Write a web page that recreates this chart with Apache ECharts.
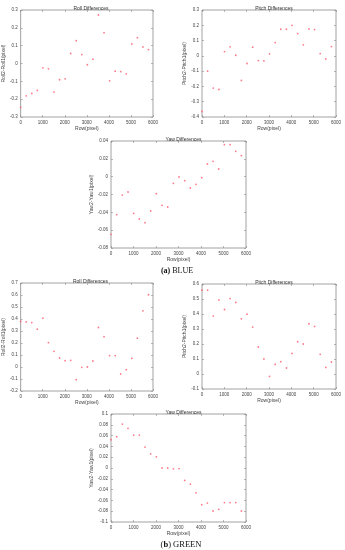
<!DOCTYPE html>
<html><head><meta charset="utf-8">
<script src="https://cdn.jsdelivr.net/npm/echarts@6/dist/echarts.min.js"></script>
<style>html,body{margin:0;padding:0;background:#fff}#c{width:345px;height:550px}</style>
</head><body><div id="c"></div>
<script>
var rows = [0,252,504,756,1008,1260,1512,1764,2016,2268,2520,2772,3024,3276,3528,3780,4032,4284,4536,4788,5040,5292,5544,5796];
var xTicks = [0,1000,2000,3000,4000,5000,6000];
var blueRoll = [-0.246,-0.181,-0.168,-0.151,-0.024,-0.030,-0.160,-0.091,-0.086,0.056,0.128,0.050,-0.007,0.024,0.272,0.173,-0.097,-0.043,-0.045,-0.058,0.110,0.145,0.093,0.078];
var bluePitch = [-0.364,-0.100,-0.211,-0.220,0.028,0.059,0.004,-0.161,-0.050,0.057,-0.031,-0.033,0.013,0.087,0.174,0.174,0.200,0.146,0.072,0.176,0.172,0.015,-0.020,0.061];
var blueYaw = [-0.0647,-0.0426,-0.0206,-0.0172,-0.0411,-0.0475,-0.0516,-0.0385,-0.0191,-0.0321,-0.0340,-0.0075,-0.0004,-0.0045,-0.0127,-0.0086,-0.0011,0.0142,0.0172,0.0086,0.0359,0.0359,0.0284,0.0236];
var greenRoll = [0.379,0.376,0.370,0.315,0.407,0.203,0.131,0.075,0.053,0.056,-0.106,-0.003,0.000,0.050,0.329,0.253,0.095,0.095,-0.058,-0.022,0.072,0.240,0.468,0.602];
var greenPitch = [0.559,0.559,0.386,0.494,0.430,0.503,0.477,0.368,0.399,0.313,0.180,0.100,-0.016,0.064,0.082,0.040,0.137,0.215,0.200,0.335,0.317,0.131,0.044,0.080];
var greenYaw = [0.0523,0.0579,0.0814,0.0734,0.061,0.061,0.0387,0.0263,0.0207,0.0,0.0,-0.0015,-0.001,-0.023,-0.030,-0.046,-0.068,-0.065,-0.0796,-0.0765,-0.064,-0.064,-0.064,-0.0796];

var panels = [
  {title:'Roll Differences', yname:'Roll2-Roll1(pixel)', data:blueRoll, min:-0.3, max:0.3, step:0.1, g:{left:19,top:10,width:134,height:107}},
  {title:'Pitch Differences', yname:'Pitch2-Pitch1(pixel)', data:bluePitch, min:-0.4, max:0.3, step:0.1, g:{left:202,top:10,width:134,height:107}},
  {title:'Yaw Differences', yname:'Yaw2-Yaw1(pixel)', data:blueYaw, min:-0.08, max:0.04, step:0.02, g:{left:111,top:141,width:135,height:107}},
  {title:'Roll Differences', yname:'Roll2-Roll1(pixel)', data:greenRoll, min:-0.2, max:0.7, step:0.1, g:{left:18,top:283,width:135,height:108}},
  {title:'Pitch Differences', yname:'Pitch2-Pitch1(pixel)', data:greenPitch, min:-0.1, max:0.6, step:0.1, g:{left:202,top:284,width:134,height:105}},
  {title:'Yaw Differences', yname:'Yaw2-Yaw1(pixel)', data:greenYaw, min:-0.1, max:0.1, step:0.02, g:{left:111,top:414,width:135,height:108}}
];

var AX = '#8a8a8a', TX = '#444';
var grid=[], xAxis=[], yAxis=[], series=[], title=[];
function fmt(v){return String(parseFloat(v.toFixed(3)));}
panels.forEach(function(p,i){
  grid.push({left:p.g.left, top:p.g.top, width:p.g.width, height:p.g.height, show:true, borderColor:AX, borderWidth:0.8, containLabel:false});
  var tickStyle = {show:true, inside:true, length:2, lineStyle:{color:AX, width:0.6}};
  var noLine = {show:false, onZero:false};
  xAxis.push({type:'value', gridIndex:i, min:0, max:6000, interval:1000, position:'bottom',
    axisLine:noLine, axisTick:tickStyle, splitLine:{show:false},
    axisLabel:{fontSize:4.5, color:TX, margin:3, fontFamily:'Liberation Sans', formatter:fmt},
    name:'Row(pixel)', nameLocation:'middle', nameGap:9, nameTextStyle:{fontSize:5, color:TX, fontFamily:'Liberation Sans'}});
  xAxis.push({type:'value', gridIndex:i, min:0, max:6000, interval:1000, position:'top',
    axisLine:noLine, axisTick:tickStyle, splitLine:{show:false}, axisLabel:{show:false}});
  yAxis.push({type:'value', gridIndex:i, min:p.min, max:p.max, interval:p.step, position:'left',
    axisLine:noLine, axisTick:tickStyle, splitLine:{show:false},
    axisLabel:{fontSize:4.5, color:TX, margin:3, fontFamily:'Liberation Sans', formatter:fmt},
    name:p.yname, nameLocation:'middle', nameGap:13, nameTextStyle:{fontSize:5, color:TX, fontFamily:'Liberation Sans'}});
  yAxis.push({type:'value', gridIndex:i, min:p.min, max:p.max, interval:p.step, position:'right',
    axisLine:noLine, axisTick:tickStyle, splitLine:{show:false}, axisLabel:{show:false}});
  series.push({type:'scatter', xAxisIndex:2*i, yAxisIndex:2*i, symbol:'circle', symbolSize:1.8,
    itemStyle:{color:'#ff5a6e'}, silent:true,
    data: rows.map(function(r,k){return [r, p.data[k]];})});
  title.push({text:p.title, left:p.g.left + p.g.width/2, top:p.g.top-8.5, textAlign:'center',
    textStyle:{fontSize:5, fontWeight:'normal', color:'#333', fontFamily:'Liberation Sans'}});
});
title.push({text:'{b|(a)} BLUE', left:172, top:262, textAlign:'center',
  textStyle:{fontSize:8, fontWeight:'normal', color:'#111', fontFamily:'Liberation Serif', rich:{b:{fontSize:8, fontWeight:'bold', fontFamily:'Liberation Serif', color:'#111'}}}});
title.push({text:'({b|b}) GREEN', left:176, top:535, textAlign:'center',
  textStyle:{fontSize:8.5, fontWeight:'normal', color:'#111', fontFamily:'Liberation Serif', rich:{b:{fontSize:8.5, fontWeight:'bold', fontFamily:'Liberation Serif', color:'#111'}}}});

var chart = echarts.init(document.getElementById('c'), null, {renderer:'canvas'});
chart.setOption({animation:false, backgroundColor:'#fff', title:title, grid:grid, xAxis:xAxis, yAxis:yAxis, series:series});
</script></body></html>
